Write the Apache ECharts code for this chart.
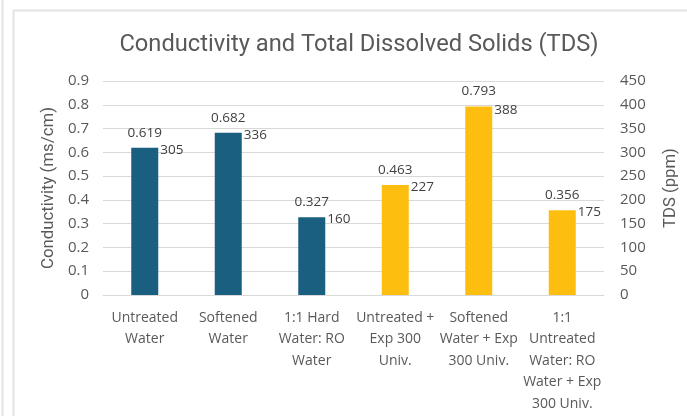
<!DOCTYPE html>
<html>
<head>
<meta charset="utf-8">
<script src="https://cdn.jsdelivr.net/npm/echarts@6/dist/echarts.min.js"></script>
<style>
  html, body { margin: 0; padding: 0; background: #fff; }
  #chart { width: 687px; height: 416px; }
</style>
</head>
<body>
<div id="chart"></div>
<script>
// Water samples tested
const categories = [
  'Untreated\nWater',
  'Softened\nWater',
  '1:1 Hard\nWater: RO\nWater',
  'Untreated +\nExp 300\nUniv.',
  'Softened\nWater + Exp\n300 Univ.',
  '1:1\nUntreated\nWater: RO\nWater + Exp\n300 Univ.'
];
// Conductivity in ms/cm (left axis)
const conductivity = [0.619, 0.682, 0.327, 0.463, 0.793, 0.356];
// Total dissolved solids in ppm (right axis)
const tds = [305, 336, 160, 227, 388, 175];
// Untreated/softened samples vs samples dosed with Exp 300 Univ.
const groupColors = ['#1A5E80', '#1A5E80', '#1A5E80', '#FDBE10', '#FDBE10', '#FDBE10'];

const textColor = '#595959';
const headFont = 'Roboto, "Liberation Sans", sans-serif';
const bodyFont = '"Open Sans", "DejaVu Sans", sans-serif';

const chart = echarts.init(document.getElementById('chart'), null, { renderer: 'canvas' });

chart.setOption({
  animation: false,
  backgroundColor: '#fff',
  textStyle: { fontFamily: bodyFont },
  graphic: [
    { type: 'line', shape: { x1: 2.5, y1: 0, x2: 2.5, y2: 416 }, style: { stroke: '#e3e3e3', lineWidth: 2 } },
    { type: 'line', shape: { x1: 13.5, y1: 10, x2: 13.5, y2: 416 }, style: { stroke: '#e3e3e3', lineWidth: 2 } },
    { type: 'line', shape: { x1: 13, y1: 10.5, x2: 687, y2: 10.5 }, style: { stroke: '#e3e3e3', lineWidth: 2 } }
  ],
  title: {
    text: 'Conductivity and Total Dissolved Solids (TDS)',
    left: 354,
    textAlign: 'center',
    top: 28,
    textStyle: { fontSize: 23.7, fontWeight: 'normal', color: textColor, fontFamily: headFont }
  },
  grid: { left: 103, right: 82, top: 81, bottom: 121 },
  xAxis: {
    type: 'category',
    data: categories,
    axisLine: { lineStyle: { color: '#d9d9d9', width: 1 } },
    axisTick: { show: false },
    axisLabel: {
      interval: 0,
      color: textColor,
      fontSize: 14,
      lineHeight: 21.5,
      margin: 12
    }
  },
  yAxis: [
    {
      type: 'value',
      min: 0, max: 0.9, interval: 0.1,
      name: 'Conductivity (ms/cm)',
      nameLocation: 'middle',
      nameGap: 45,
      nameTextStyle: { color: textColor, fontSize: 16.8, fontFamily: headFont },
      axisLine: { show: false },
      axisTick: { show: false },
      axisLabel: { color: textColor, fontSize: 15, margin: 14, formatter: v => (v === 0 ? '0' : v.toFixed(1)) },
      splitLine: { lineStyle: { color: '#d9d9d9', width: 1 } }
    },
    {
      type: 'value',
      min: 0, max: 450, interval: 50,
      name: 'TDS (ppm)',
      nameLocation: 'middle',
      nameGap: 58,
      nameRotate: 90,
      nameTextStyle: { color: textColor, fontSize: 16.7, fontFamily: headFont },
      axisLine: { show: false },
      axisTick: { show: false },
      axisLabel: { color: textColor, fontSize: 15, margin: 16 },
      splitLine: { show: false }
    }
  ],
  series: [
    {
      name: 'Conductivity',
      type: 'bar',
      yAxisIndex: 0,
      barWidth: 27,
      data: conductivity.map((v, i) => ({ value: v, itemStyle: { color: groupColors[i] } })),
      label: {
        show: true,
        position: 'top',
        distance: 8,
        color: '#404040',
        fontSize: 13.5,
        formatter: p => p.value.toFixed(3)
      },
      z: 2
    },
    {
      name: 'TDS',
      type: 'bar',
      yAxisIndex: 1,
      barWidth: 27,
      barGap: '-100%',
      itemStyle: { color: 'rgba(0,0,0,0)' },
      data: tds,
      label: {
        show: true,
        position: ['100%', 0],
        offset: [2, 0],
        align: 'left',
        verticalAlign: 'middle',
        color: '#404040',
        fontSize: 13.5
      },
      z: 3
    }
  ]
});
</script>
</body>
</html>
